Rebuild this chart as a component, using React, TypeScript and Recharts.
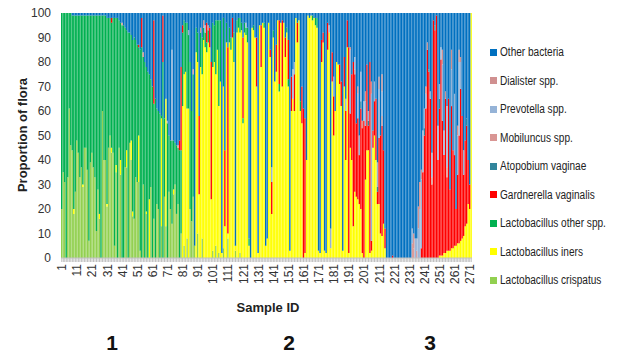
import { BarChart, Bar, XAxis, YAxis } from "recharts";

const FONT = "'Liberation Sans', Arial, sans-serif";

// sample IDs 1..272
const SAMPLE_IDS = Array.from({ length: 272 }, (_, i) => i + 1);
const Y_TICKS = [0, 10, 20, 30, 40, 50, 60, 70, 80, 90, 100];

const CRISPATUS = [
  20, 35, 31, 0, 33, 61, 46, 44, 18, 27,
  48, 43, 33, 37, 29, 45, 45, 36, 7, 39,
  43, 37, 33, 11, 28, 16, 0, 60, 40, 40,
  21, 45, 50, 43, 43, 5, 35, 0, 45, 34,
  0, 0, 37, 37, 0, 47, 40, 17, 16, 33,
  31, 31, 3, 0, 30, 0, 18, 0, 0, 29,
  0, 16, 0, 22, 20, 0, 13, 0, 25, 13,
  0, 27, 20, 14, 26, 30, 18, 22, 0, 10,
  0, 5, 0, 8, 0, 20, 15, 25, 5, 0,
  10, 0, 0, 8, 0, 0, 0, 0, 0, 0,
  3, 0, 5, 0, 2, 0, 0, 4, 0, 0,
  8, 0, 0, 0, 0, 3, 0, 0, 2, 0,
  0, 0, 0, 0, 0, 0, 0, 0, 0, 0,
  0, 0, 0, 0, 0, 0, 0, 0, 0, 0,
  0, 0, 0, 0, 0, 0, 0, 0, 0, 0,
  0, 0, 0, 0, 0, 0, 0, 0, 0, 0,
  0, 0, 0, 0, 0, 0, 0, 0, 0, 0,
  0, 0, 0, 0, 0, 0, 0, 0, 0, 0,
  0, 0, 0, 0, 0, 0, 0, 0, 0, 0,
  0, 0, 0, 0, 0, 0, 0, 0, 0, 0,
  0, 0, 0, 0, 0, 0, 0, 0, 0, 0,
  0, 0, 0, 0, 0, 0, 0, 0, 0, 0,
  0, 0, 0, 0, 0, 0, 0, 0, 0, 0,
  0, 0, 0, 0, 0, 0, 0, 0, 0, 0,
  0, 0, 0, 0, 0, 0, 0, 0, 0, 0,
  0, 0, 0, 0, 0, 0, 0, 0, 0, 0,
  0, 0, 0, 0, 0, 0, 0, 0, 0, 0,
  0, 0,
];

const INERS = [
  0, 0, 0, 0, 0, 0, 0, 0, 2, 0,
  0, 0, 0, 0, 1, 0, 0, 0, 0, 0,
  0, 0, 0, 0, 0, 2, 0, 0, 0, 0,
  1, 0, 0, 2, 0, 0, 3, 0, 0, 6,
  0, 0, 0, 7, 0, 0, 8, 2, 0, 0,
  0, 19, 0, 0, 0, 0, 1, 0, 24, 0,
  0, 0, 0, 0, 0, 0, 44, 0, 0, 52,
  0, 0, 0, 0, 2, 0, 0, 0, 0, 0,
  62, 70, 76, 53, 61, 0, 0, 0, 0, 84,
  70, 26, 78, 67, 89, 86, 84, 88, 86, 24,
  75, 80, 70, 85, 60, 72, 2, 66, 13, 88,
  2, 88, 85, 90, 80, 2, 92, 94, 90, 93,
  55, 92, 91, 88, 5, 0, 94, 93, 90, 70,
  2, 95, 78, 96, 94, 5, 8, 96, 82, 18,
  90, 72, 76, 97, 68, 96, 70, 96, 82, 92,
  70, 3, 60, 65, 60, 98, 88, 97, 60, 55,
  0, 2, 40, 99, 98, 99, 97, 98, 95, 94,
  3, 2, 80, 88, 3, 2, 85, 92, 4, 72,
  50, 60, 80, 79, 71, 62, 3, 70, 40, 86,
  2, 45, 40, 13, 27, 25, 24, 22, 20, 2,
  0, 32, 44, 44, 2, 3, 45, 50, 40, 22,
  22, 10, 9, 14, 4, 0, 0, 0, 0, 0,
  0, 0, 0, 0, 0, 0, 0, 0, 0, 0,
  0, 0, 0, 0, 0, 0, 0, 0, 0, 0,
  0, 0, 0, 0, 0, 0, 0, 0, 0, 0,
  1, 1, 1, 2, 2, 3, 3, 3, 4, 4,
  5, 5, 6, 6, 7, 8, 9, 13, 14, 22,
  20, 100,
];

const OTHER_LACTO = [
  80, 65, 69, 100, 67, 39, 54, 55, 79, 72,
  51, 56, 66, 62, 69, 54, 54, 63, 92, 60,
  56, 62, 66, 88, 71, 81, 99, 39, 59, 59,
  76, 53, 48, 51, 55, 93, 60, 98, 52, 56,
  95, 95, 57, 49, 92, 45, 43, 70, 74, 56,
  56, 36, 82, 86, 52, 80, 59, 76, 51, 44,
  70, 47, 65, 39, 40, 59, 1, 80, 32, 0,
  55, 23, 28, 34, 20, 17, 28, 23, 44, 34,
  30, 22, 20, 35, 30, 60, 45, 50, 0, 10,
  12, 0, 14, 15, 5, 6, 4, 5, 0, 0,
  18, 15, 22, 12, 35, 25, 0, 28, 0, 8,
  0, 6, 5, 0, 12, 0, 5, 4, 6, 3,
  2, 4, 3, 6, 3, 0, 0, 2, 0, 0,
  0, 0, 0, 0, 2, 0, 0, 0, 0, 0,
  3, 0, 0, 0, 3, 0, 0, 0, 0, 2,
  3, 0, 0, 0, 0, 0, 0, 0, 4, 0,
  0, 0, 0, 0, 0, 0, 2, 0, 3, 4,
  0, 0, 0, 0, 0, 0, 0, 0, 0, 0,
  0, 0, 0, 0, 0, 0, 0, 0, 0, 0,
  0, 0, 0, 0, 0, 0, 0, 0, 0, 0,
  0, 0, 0, 0, 0, 0, 0, 0, 0, 0,
  0, 0, 0, 0, 0, 0, 0, 0, 0, 0,
  0, 0, 0, 0, 0, 0, 0, 0, 0, 0,
  0, 0, 0, 0, 0, 0, 0, 0, 0, 0,
  0, 0, 0, 0, 0, 0, 0, 0, 0, 0,
  0, 0, 0, 0, 0, 0, 0, 0, 0, 0,
  0, 0, 0, 0, 0, 0, 0, 0, 0, 0,
  0, 0,
];

const GARDNERELLA = [
  0, 0, 0, 0, 0, 0, 0, 0, 0, 0,
  0, 0, 0, 0, 0, 0, 0, 0, 0, 0,
  0, 0, 0, 0, 0, 0, 0, 0, 0, 0,
  0, 0, 0, 2, 0, 0, 0, 0, 0, 0,
  0, 0, 0, 0, 0, 0, 0, 0, 0, 0,
  0, 1, 0, 12, 0, 0, 0, 0, 0, 0,
  0, 34, 0, 0, 0, 0, 0, 19, 0, 0,
  0, 0, 0, 0, 0, 0, 0, 0, 4, 34,
  3, 0, 0, 0, 0, 0, 0, 0, 0, 0,
  0, 32, 0, 0, 0, 0, 8, 0, 8, 56,
  0, 0, 0, 0, 0, 0, 0, 0, 31, 0,
  76, 0, 0, 8, 0, 0, 0, 0, 0, 0,
  33, 0, 0, 0, 0, 0, 0, 0, 0, 20,
  0, 0, 17, 0, 0, 0, 0, 0, 3, 13,
  0, 0, 11, 0, 26, 0, 27, 0, 8, 0,
  16, 0, 14, 0, 15, 0, 8, 0, 0, 15,
  61, 55, 0, 0, 0, 0, 0, 0, 0, 0,
  0, 0, 9, 4, 0, 0, 11, 0, 0, 12,
  16, 0, 0, 0, 8, 10, 0, 12, 20, 11,
  84, 14, 35, 67, 48, 30, 33, 20, 41, 51,
  56, 22, 35, 10, 78, 4, 7, 14, 25, 5,
  27, 40, 45, 30, 8, 0, 0, 0, 0, 1,
  0, 0, 0, 0, 0, 0, 0, 0, 0, 0,
  0, 0, 0, 0, 0, 0, 0, 0, 4, 35,
  50, 61, 85, 76, 65, 30, 97, 93, 99, 40,
  60, 80, 55, 40, 63, 30, 62, 25, 58, 40,
  37, 15, 28, 44, 62, 50, 25, 35, 40, 18,
  10, 0,
];

const ATOPOBIUM = [
  0, 0, 0, 0, 0, 0, 0, 0, 0, 0,
  0, 0, 0, 0, 0, 0, 0, 0, 0, 0,
  0, 0, 0, 0, 0, 0, 0, 0, 0, 0,
  0, 0, 0, 0, 0, 0, 0, 0, 0, 0,
  0, 0, 0, 0, 0, 0, 0, 0, 0, 0,
  0, 0, 0, 0, 0, 0, 0, 0, 0, 0,
  0, 0, 0, 0, 0, 0, 0, 0, 0, 0,
  0, 0, 0, 0, 0, 0, 0, 0, 0, 0,
  0, 0, 0, 0, 0, 0, 0, 0, 0, 0,
  0, 0, 0, 0, 0, 0, 0, 0, 0, 0,
  0, 0, 0, 0, 0, 0, 0, 0, 0, 0,
  2, 0, 0, 0, 0, 0, 0, 0, 0, 0,
  0, 0, 0, 0, 0, 0, 0, 0, 0, 0,
  0, 0, 0, 0, 0, 0, 0, 0, 0, 0,
  0, 0, 0, 0, 0, 0, 0, 0, 0, 0,
  0, 0, 0, 0, 0, 0, 0, 0, 0, 0,
  0, 0, 0, 0, 0, 0, 0, 0, 0, 0,
  0, 0, 0, 0, 0, 0, 0, 0, 0, 0,
  0, 0, 0, 0, 0, 0, 0, 0, 0, 0,
  0, 0, 0, 0, 0, 0, 0, 0, 3, 0,
  0, 0, 0, 2, 0, 0, 0, 0, 0, 2,
  0, 0, 0, 0, 0, 0, 0, 0, 0, 0,
  0, 0, 0, 0, 0, 0, 0, 0, 0, 0,
  0, 0, 0, 0, 0, 0, 0, 0, 0, 0,
  3, 0, 0, 1, 0, 0, 0, 2, 0, 0,
  4, 0, 0, 0, 0, 0, 0, 0, 0, 0,
  0, 0, 0, 0, 0, 0, 0, 0, 3, 0,
  0, 0,
];

const MOBILUNCUS = [
  0, 0, 0, 0, 0, 0, 0, 0, 0, 0,
  0, 0, 0, 0, 0, 0, 0, 0, 0, 0,
  0, 0, 0, 0, 0, 0, 0, 0, 0, 0,
  0, 0, 0, 0, 0, 0, 0, 0, 0, 0,
  1, 0, 0, 0, 0, 0, 0, 0, 0, 0,
  0, 0, 0, 0, 2, 0, 0, 0, 0, 0,
  0, 0, 0, 0, 0, 0, 0, 0, 0, 0,
  0, 0, 0, 0, 0, 0, 0, 1, 0, 0,
  0, 0, 0, 0, 0, 0, 0, 2, 0, 0,
  0, 0, 2, 0, 3, 0, 0, 0, 0, 0,
  0, 0, 0, 0, 0, 0, 0, 0, 0, 0,
  0, 0, 0, 0, 0, 0, 0, 0, 0, 0,
  0, 0, 0, 0, 0, 0, 0, 0, 0, 0,
  0, 0, 0, 0, 0, 0, 0, 0, 0, 0,
  0, 0, 0, 0, 0, 0, 0, 0, 0, 0,
  0, 0, 0, 0, 0, 0, 0, 0, 0, 0,
  0, 0, 0, 0, 0, 0, 0, 0, 0, 0,
  0, 0, 0, 0, 0, 0, 0, 0, 0, 0,
  0, 0, 0, 0, 0, 0, 0, 0, 0, 0,
  0, 0, 0, 0, 2, 0, 0, 0, 0, 3,
  0, 0, 0, 0, 0, 0, 0, 0, 0, 0,
  0, 0, 4, 0, 0, 0, 0, 0, 0, 0,
  0, 0, 0, 0, 0, 0, 0, 0, 0, 0,
  0, 0, 6, 4, 0, 3, 0, 0, 0, 0,
  0, 0, 0, 0, 0, 3, 0, 0, 0, 0,
  0, 0, 0, 0, 0, 4, 0, 0, 0, 0,
  0, 0, 0, 0, 0, 0, 0, 0, 0, 0,
  0, 0,
];

const PREVOTELLA = [
  0, 0, 0, 0, 0, 0, 0, 0, 0, 0,
  0, 0, 0, 0, 0, 0, 0, 0, 0, 0,
  0, 0, 0, 0, 0, 0, 0, 0, 0, 0,
  0, 0, 0, 0, 0, 0, 0, 0, 0, 0,
  0, 0, 0, 0, 0, 0, 0, 0, 0, 0,
  0, 0, 0, 0, 0, 0, 0, 0, 0, 0,
  0, 0, 0, 0, 0, 0, 0, 0, 0, 0,
  1, 0, 0, 37, 0, 0, 0, 0, 0, 0,
  0, 0, 0, 0, 2, 0, 0, 0, 0, 0,
  0, 0, 0, 0, 0, 3, 0, 0, 0, 0,
  0, 0, 0, 0, 0, 0, 0, 0, 0, 0,
  0, 0, 0, 0, 0, 0, 0, 0, 0, 0,
  0, 0, 2, 0, 0, 0, 0, 0, 0, 0,
  0, 0, 0, 0, 0, 0, 0, 0, 0, 6,
  0, 0, 0, 0, 0, 0, 0, 0, 0, 0,
  0, 0, 0, 12, 5, 0, 0, 0, 0, 0,
  0, 0, 0, 0, 0, 0, 0, 0, 0, 0,
  0, 0, 0, 0, 0, 0, 0, 3, 8, 0,
  8, 0, 0, 0, 0, 0, 0, 0, 5, 0,
  0, 26, 0, 0, 5, 0, 10, 8, 12, 0,
  8, 10, 0, 4, 0, 60, 0, 8, 0, 10,
  20, 0, 10, 0, 0, 0, 0, 0, 0, 0,
  0, 0, 0, 0, 0, 0, 0, 0, 0, 0,
  0, 0, 6, 0, 8, 5, 12, 20, 28, 17,
  8, 6, 0, 0, 3, 10, 0, 0, 0, 14,
  6, 5, 23, 10, 0, 25, 0, 0, 15, 0,
  25, 0, 16, 30, 11, 0, 10, 0, 0, 0,
  0, 0,
];

const DIALISTER = [
  0, 0, 0, 0, 0, 0, 0, 0, 0, 0,
  0, 0, 0, 0, 0, 0, 0, 0, 0, 0,
  0, 0, 0, 0, 0, 0, 0, 0, 0, 0,
  0, 0, 0, 0, 0, 0, 0, 0, 0, 0,
  0, 0, 0, 0, 0, 0, 0, 0, 0, 0,
  0, 0, 0, 0, 0, 0, 0, 0, 0, 0,
  0, 0, 0, 0, 0, 0, 0, 0, 0, 0,
  0, 0, 0, 0, 0, 0, 0, 0, 0, 0,
  0, 0, 0, 0, 0, 0, 0, 0, 0, 0,
  0, 0, 0, 0, 0, 0, 0, 2, 0, 0,
  0, 0, 0, 0, 0, 0, 0, 0, 0, 0,
  0, 0, 0, 0, 0, 0, 0, 0, 0, 0,
  0, 0, 0, 0, 0, 0, 0, 0, 0, 0,
  0, 0, 0, 0, 0, 0, 0, 0, 0, 0,
  0, 0, 0, 0, 0, 0, 0, 0, 0, 0,
  0, 0, 0, 0, 0, 0, 0, 0, 0, 0,
  0, 0, 0, 0, 0, 0, 0, 0, 0, 0,
  0, 0, 0, 0, 0, 0, 0, 0, 0, 0,
  0, 0, 0, 0, 0, 0, 0, 0, 0, 0,
  0, 1, 0, 0, 0, 0, 3, 0, 0, 0,
  0, 4, 0, 0, 0, 5, 0, 0, 0, 0,
  5, 0, 7, 0, 0, 0, 0, 0, 0, 0,
  0, 0, 0, 0, 0, 0, 0, 0, 0, 0,
  0, 0, 0, 6, 0, 0, 9, 11, 4, 0,
  0, 3, 3, 0, 0, 0, 0, 0, 0, 0,
  0, 0, 6, 0, 3, 0, 0, 0, 8, 0,
  0, 0, 4, 5, 2, 0, 0, 0, 0, 0,
  0, 0,
];

const OTHER_BACTERIA = [
  0, 0, 0, 0, 0, 0, 0, 1, 1, 1,
  1, 1, 1, 1, 1, 1, 1, 1, 1, 1,
  1, 1, 1, 1, 1, 1, 1, 1, 1, 1,
  2, 2, 2, 2, 2, 2, 2, 2, 3, 4,
  4, 5, 6, 7, 8, 8, 9, 11, 10, 11,
  13, 13, 15, 2, 16, 20, 22, 24, 25, 27,
  30, 3, 35, 39, 40, 41, 42, 1, 43, 35,
  44, 50, 52, 15, 52, 53, 54, 54, 52, 22,
  5, 3, 4, 4, 7, 20, 40, 23, 95, 6,
  8, 42, 6, 10, 3, 5, 4, 5, 6, 20,
  4, 5, 3, 3, 3, 3, 98, 2, 56, 4,
  12, 6, 10, 2, 8, 95, 3, 2, 2, 4,
  10, 4, 4, 6, 92, 100, 6, 5, 10, 10,
  98, 5, 5, 4, 4, 95, 92, 4, 15, 63,
  7, 28, 13, 3, 3, 4, 3, 4, 10, 6,
  11, 97, 26, 23, 20, 2, 4, 3, 36, 30,
  39, 43, 60, 1, 2, 1, 1, 2, 2, 2,
  97, 98, 11, 8, 97, 98, 4, 5, 88, 16,
  26, 40, 20, 21, 21, 28, 97, 18, 35, 3,
  14, 14, 25, 20, 18, 45, 30, 50, 24, 44,
  36, 32, 21, 40, 20, 28, 48, 28, 35, 61,
  26, 50, 25, 56, 88, 100, 100, 100, 100, 99,
  100, 100, 100, 100, 100, 100, 100, 100, 100, 100,
  100, 100, 88, 90, 92, 92, 79, 69, 64, 48,
  39, 30, 12, 23, 32, 57, 3, 5, 1, 46,
  29, 14, 15, 48, 32, 38, 35, 72, 15, 56,
  33, 80, 46, 15, 18, 42, 56, 52, 43, 60,
  70, 0,
];

// stacking order, bottom first
const SERIES = [
  { key: "crispatus", name: "Lactobacillus crispatus", color: "#92D050", values: CRISPATUS },
  { key: "iners", name: "Lactobacillus iners", color: "#FFFF00", values: INERS },
  { key: "otherLacto", name: "Lactobacillus other spp.", color: "#00B050", values: OTHER_LACTO },
  { key: "gardnerella", name: "Gardnerella vaginalis", color: "#FF0000", values: GARDNERELLA },
  { key: "atopobium", name: "Atopobium vaginae", color: "#31859C", values: ATOPOBIUM },
  { key: "mobiluncus", name: "Mobiluncus spp.", color: "#D99694", values: MOBILUNCUS },
  { key: "prevotella", name: "Prevotella spp.", color: "#95B3D7", values: PREVOTELLA },
  { key: "dialister", name: "Dialister spp.", color: "#D09090", values: DIALISTER },
  { key: "other", name: "Other bacteria", color: "#0070C0", values: OTHER_BACTERIA },
];

const DATA = SAMPLE_IDS.map((id, i) => {
  const row: Record<string, number> = { id };
  SERIES.forEach((s) => {
    row[s.key] = s.values[i];
  });
  return row;
});

function SampleTick({ x, y, payload }: any) {
  if ((payload.value - 1) % 10 !== 0) return <g />;
  return (
    <text
      transform={`translate(${x + 0.5},${y}) rotate(-90)`}
      textAnchor="end"
      dominantBaseline="central"
      fontSize={12}
      fontFamily={FONT}
      fill="#333"
    >
      {payload.value}
    </text>
  );
}

export default function App() {
  return (
    <div style={{ position: "relative", width: 620, height: 364, background: "#fff", fontFamily: FONT }}>
      <style>{"body{margin:0}"}</style>
      <BarChart
        width={620}
        height={364}
        data={DATA}
        margin={{ top: 13, right: 148, bottom: 76, left: 21 }}
        barCategoryGap={0}
        barGap={0}
      >
        <XAxis
          dataKey="id"
          interval={0}
          tick={<SampleTick />}
          tickSize={4}
          tickLine={{ stroke: "#C0C0C0" }}
          axisLine={{ stroke: "#C0C0C0" }}
          height={30}
        />
        <YAxis
          domain={[0, 100]}
          ticks={Y_TICKS}
          allowDataOverflow
          tickLine={false}
          axisLine={false}
          width={40}
          tickSize={0}
          tickMargin={10}
          tick={{ fontSize: 12, fill: "#333", fontFamily: FONT }}
        />
        {SERIES.map((s) => (
          <Bar key={s.key} dataKey={s.key} name={s.name} stackId="flora" fill={s.color} barSize={1.6} isAnimationActive={false} />
        ))}
      </BarChart>

      <div
        style={{
          position: "absolute",
          left: 22,
          top: 135,
          transform: "translate(-50%, -50%) rotate(-90deg)",
          whiteSpace: "nowrap",
          fontSize: 13,
          fontWeight: "bold",
          color: "#222",
        }}
      >
        Proportion of flora
      </div>

      <div
        style={{
          position: "absolute",
          left: 268,
          top: 307,
          transform: "translate(-50%, -50%)",
          whiteSpace: "nowrap",
          fontSize: 13,
          fontWeight: "bold",
          color: "#222",
        }}
      >
        Sample ID
      </div>

      {[
        { label: "1", x: 112 },
        { label: "2", x: 289 },
        { label: "3", x: 430 },
      ].map((g) => (
        <div
          key={g.label}
          style={{
            position: "absolute",
            left: g.x,
            top: 343,
            transform: "translate(-50%, -50%)",
            fontSize: 21,
            fontWeight: "bold",
            color: "#111",
          }}
        >
          {g.label}
        </div>
      ))}

      <div style={{ position: "absolute", left: 490, top: 38 }}>
        {[...SERIES].reverse().map((s) => (
          <div key={s.key} style={{ display: "flex", alignItems: "center", height: 28.5, fontSize: 12, color: "#222", whiteSpace: "nowrap" }}>
            <span style={{ width: 7, height: 7, background: s.color, marginRight: 3, display: "inline-block", flex: "none" }} />
            <span style={{ display: "inline-block", transform: "scaleX(0.84)", transformOrigin: "left center" }}>{s.name}</span>
          </div>
        ))}
      </div>
    </div>
  );
}
